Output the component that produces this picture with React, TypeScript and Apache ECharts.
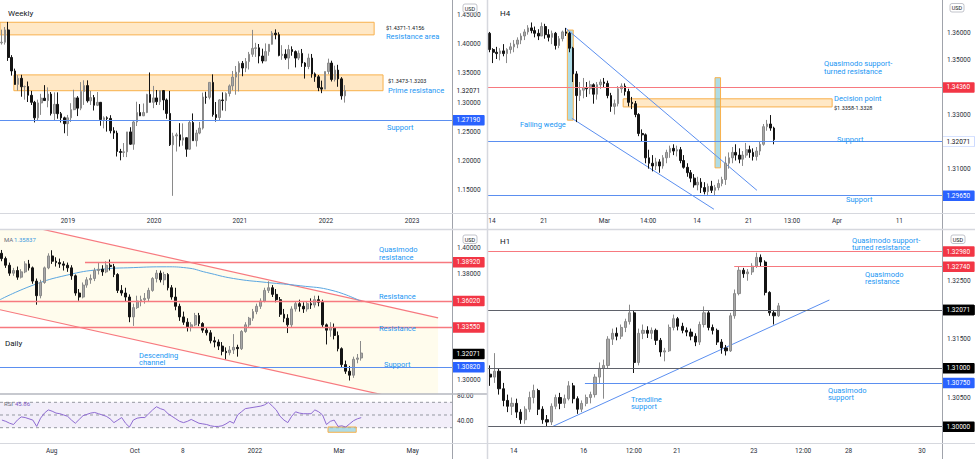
import React, { useEffect, useRef } from 'react';
import * as echarts from 'echarts';

const FONT = 'Roboto, "Noto Sans", "DejaVu Sans", sans-serif';

// ---------------- Weekly (two-week candles) ----------------
const weeklyFirstOpen = 1.402;
const weeklyClose = [
  1.4030, 1.4240, 1.3770, 1.3540, 1.3310, 1.3415, 1.3270, 1.3275, 1.3125, 1.3005,
  1.2740, 1.2995, 1.3075, 1.3035, 1.3145, 1.2815, 1.2970, 1.2810, 1.2740, 1.2640,
  1.2740, 1.2880, 1.3080, 1.2905, 1.3190, 1.3290, 1.3030, 1.3085, 1.2955, 1.3005,
  1.2710, 1.2740, 1.2730, 1.2520, 1.2480, 1.2165, 1.2150, 1.2160, 1.2500, 1.2290,
  1.2670, 1.2830, 1.2775, 1.2830, 1.3140, 1.3005, 1.3080, 1.3015, 1.3205, 1.3045,
  1.2815, 1.2280, 1.2430, 1.2450, 1.2360, 1.2400, 1.2205, 1.2660, 1.2350, 1.2480,
  1.2565, 1.3095, 1.3090, 1.3345, 1.2795, 1.2745, 1.3045, 1.3035, 1.3155, 1.3285,
  1.3435, 1.3520, 1.3670, 1.3590, 1.3700, 1.3825, 1.3925, 1.3935, 1.3795, 1.3710,
  1.3870, 1.3995, 1.4185, 1.4160, 1.3805, 1.3825, 1.3760, 1.3905, 1.3870, 1.3760,
  1.3840, 1.3675, 1.3615, 1.3760, 1.3490, 1.3440, 1.3255, 1.3230, 1.3530, 1.3675,
  1.3395, 1.3555, 1.3405, 1.3115, 1.3207,
];
const weeklyHigh = [
  1.4245, 1.4290, 1.4377, 1.3810, 1.3580, 1.3470, 1.3475, 1.3290, 1.3360, 1.3200,
  1.3030, 1.3050, 1.3150, 1.3298, 1.3260, 1.3180, 1.3175, 1.3175, 1.2840, 1.2760,
  1.2790, 1.2990, 1.3220, 1.3110, 1.3350, 1.3381, 1.3380, 1.3200, 1.3130, 1.3180,
  1.3010, 1.2765, 1.2765, 1.2785, 1.2580, 1.2520, 1.2210, 1.2310, 1.2500, 1.2580,
  1.2700, 1.3015, 1.2975, 1.2985, 1.3150, 1.3514, 1.3285, 1.3215, 1.3210, 1.3210,
  1.3070, 1.3200, 1.2485, 1.2485, 1.2650, 1.2645, 1.2410, 1.2700, 1.2815, 1.2535,
  1.2670, 1.3170, 1.3185, 1.3345, 1.3482, 1.3010, 1.3060, 1.3175, 1.3175, 1.3310,
  1.3540, 1.3625, 1.3705, 1.3710, 1.3760, 1.3865, 1.4241, 1.4020, 1.4000, 1.3920,
  1.4010, 1.4000, 1.4220, 1.4250, 1.4200, 1.3980, 1.3910, 1.3985, 1.3960, 1.3890,
  1.3890, 1.3915, 1.3690, 1.3835, 1.3830, 1.3515, 1.3470, 1.3375, 1.3530, 1.3750,
  1.3715, 1.3630, 1.3645, 1.3435, 1.3298,
];
const weeklyLow = [
  1.3990, 1.3990, 1.3712, 1.3460, 1.3305, 1.3205, 1.3100, 1.3050, 1.3010, 1.2960,
  1.2662, 1.2700, 1.2790, 1.3030, 1.2920, 1.2780, 1.2700, 1.2725, 1.2660, 1.2477,
  1.2432, 1.2670, 1.2870, 1.2770, 1.2870, 1.2960, 1.3000, 1.2960, 1.2865, 1.2940,
  1.2605, 1.2560, 1.2505, 1.2475, 1.2380, 1.2080, 1.2015, 1.2070, 1.2070, 1.2280,
  1.2195, 1.2600, 1.2770, 1.2770, 1.2820, 1.3000, 1.2905, 1.2960, 1.2960, 1.2870,
  1.2725, 1.2260, 1.1409, 1.2165, 1.2250, 1.2265, 1.2075, 1.2195, 1.2350, 1.2250,
  1.2460, 1.2540, 1.2980, 1.3055, 1.2760, 1.2676, 1.2700, 1.2865, 1.2855, 1.3105,
  1.3210, 1.3135, 1.3190, 1.3450, 1.3520, 1.3565, 1.3780, 1.3780, 1.3670, 1.3670,
  1.3710, 1.3800, 1.3990, 1.4080, 1.3790, 1.3730, 1.3730, 1.3570, 1.3800, 1.3600,
  1.3725, 1.3610, 1.3410, 1.3570, 1.3425, 1.3355, 1.3195, 1.3161, 1.3230, 1.3485,
  1.3360, 1.3360, 1.3270, 1.3050, 1.3000,
];
const weeklySlots = 137;
const weeklyTickPos = [20.6, 46.7, 72.7, 98.8, 124.9];
const weeklyTickText = ['2019', '2020', '2021', '2022', '2023'];
const weeklyPriceTicks = [1.15, 1.2, 1.25, 1.3, 1.35, 1.4, 1.45];
const weeklyPriceRange = [1.1116, 1.47509];
const weeklyResistanceArea = [1.4156, 1.4371];
const weeklyResistanceSpan = [0, 113.4];
const weeklyPrimeResistance = [1.3203, 1.3473];
const weeklyPrimeSpan = [4.2, 116.1];
const weeklySupport = 1.2719;

// ---------------- H4 (8-hour candles) ----------------
const h4FirstOpen = 1.36;
const h4Close = [
  1.3540, 1.3530, 1.3525, 1.3535, 1.3525, 1.3540, 1.3550, 1.3560, 1.3575, 1.3590,
  1.3605, 1.3620, 1.3610, 1.3600, 1.3590, 1.3625, 1.3595, 1.3585, 1.3600, 1.3555,
  1.3580, 1.3605, 1.3600, 1.3545, 1.3450, 1.3370, 1.3390, 1.3400, 1.3395, 1.3410,
  1.3375, 1.3410, 1.3420, 1.3415, 1.3370, 1.3330, 1.3340, 1.3395, 1.3405, 1.3385,
  1.3345, 1.3340, 1.3300, 1.3230, 1.3225, 1.3140, 1.3120, 1.3110, 1.3125, 1.3110,
  1.3140, 1.3160, 1.3175, 1.3165, 1.3170, 1.3130, 1.3105, 1.3085, 1.3065, 1.3040,
  1.3050, 1.3030, 1.3015, 1.3035, 1.3020, 1.3030, 1.3045, 1.3060, 1.3120, 1.3140,
  1.3160, 1.3150, 1.3135, 1.3150, 1.3170, 1.3160, 1.3145, 1.3165, 1.3190, 1.3255,
  1.3265, 1.3250, 1.3207,
];
const h4High = [
  1.3605, 1.3545, 1.3550, 1.3545, 1.3560, 1.3545, 1.3565, 1.3575, 1.3585, 1.3600,
  1.3615, 1.3630, 1.3640, 1.3625, 1.3615, 1.3640, 1.3635, 1.3615, 1.3610, 1.3605,
  1.3590, 1.3610, 1.3620, 1.3605, 1.3550, 1.3460, 1.3420, 1.3435, 1.3420, 1.3425,
  1.3415, 1.3420, 1.3430, 1.3435, 1.3425, 1.3380, 1.3355, 1.3405, 1.3415, 1.3415,
  1.3395, 1.3365, 1.3350, 1.3305, 1.3245, 1.3230, 1.3170, 1.3150, 1.3140, 1.3135,
  1.3150, 1.3170, 1.3185, 1.3190, 1.3185, 1.3180, 1.3150, 1.3120, 1.3095, 1.3080,
  1.3070, 1.3065, 1.3050, 1.3045, 1.3055, 1.3040, 1.3060, 1.3070, 1.3145, 1.3160,
  1.3180, 1.3190, 1.3175, 1.3165, 1.3195, 1.3185, 1.3175, 1.3180, 1.3200, 1.3265,
  1.3280, 1.3298, 1.3255,
];
const h4Low = [
  1.3530, 1.3490, 1.3505, 1.3500, 1.3515, 1.3490, 1.3525, 1.3530, 1.3545, 1.3560,
  1.3575, 1.3595, 1.3600, 1.3585, 1.3575, 1.3590, 1.3580, 1.3570, 1.3560, 1.3540,
  1.3545, 1.3570, 1.3590, 1.3530, 1.3420, 1.3272, 1.3350, 1.3360, 1.3365, 1.3375,
  1.3340, 1.3355, 1.3395, 1.3400, 1.3360, 1.3310, 1.3300, 1.3330, 1.3380, 1.3370,
  1.3330, 1.3320, 1.3290, 1.3220, 1.3200, 1.3120, 1.3100, 1.3090, 1.3095, 1.3085,
  1.3100, 1.3120, 1.3140, 1.3150, 1.3145, 1.3120, 1.3100, 1.3070, 1.3050, 1.3030,
  1.3020, 1.3010, 1.3005, 1.3000, 1.3010, 1.3000, 1.3020, 1.3035, 1.3040, 1.3100,
  1.3120, 1.3130, 1.3120, 1.3110, 1.3140, 1.3140, 1.3130, 1.3130, 1.3150, 1.3185,
  1.3240, 1.3240, 1.3190,
];
const h4Slots = 131;
const h4TickPos = [1.15, 16.1, 33.6, 46.2, 60.3, 75.2, 87.7, 100.7, 118.7];
const h4TickText = ['14', '21', 'Mar', '14:00', '14', '21', '13:00', 'Apr', '11'];
const h4PriceTicks = [1.3, 1.31, 1.33, 1.34, 1.35, 1.36];
const h4PriceRange = [1.29362, 1.3723];
const h4QmResistance = 1.3436;
const h4Support = 1.32;
const h4LowerSupport = 1.2965;
const h4DecisionZone = [1.3328, 1.3358];
const h4DecisionSpan = [39.0, 99.3];
const h4MeasureA = { x: [22.9, 24.6], y: [1.3279, 1.3612] };
const h4MeasureB = { x: [65.5, 67.1], y: [1.3103, 1.3436] };
const h4WedgeUpper = [[22.5, 1.3618], [77.6, 1.302]];
const h4WedgeLower = [[24.2, 1.3286], [65.2, 1.295]];

// ---------------- Daily (two-day candles) ----------------
const dailyFirstOpen = 1.396;
const dailyClose = [
  1.3920, 1.3870, 1.3810, 1.3830, 1.3780, 1.3820, 1.3880, 1.3850, 1.3750, 1.3640,
  1.3740, 1.3850, 1.3940, 1.3900, 1.3890, 1.3880, 1.3870, 1.3850, 1.3790, 1.3660,
  1.3630, 1.3720, 1.3760, 1.3770, 1.3830, 1.3840, 1.3820, 1.3870, 1.3860, 1.3800,
  1.3680, 1.3660, 1.3630, 1.3480, 1.3550, 1.3600, 1.3610, 1.3620, 1.3680, 1.3770,
  1.3810, 1.3760, 1.3800, 1.3700, 1.3630, 1.3560, 1.3480, 1.3440, 1.3400, 1.3420,
  1.3490, 1.3430, 1.3380, 1.3360, 1.3300, 1.3290, 1.3260, 1.3220, 1.3210, 1.3230,
  1.3250, 1.3240, 1.3370, 1.3420, 1.3470, 1.3520, 1.3560, 1.3600, 1.3680, 1.3700,
  1.3650, 1.3610, 1.3500, 1.3470, 1.3420, 1.3540, 1.3580, 1.3560, 1.3540, 1.3580,
  1.3570, 1.3610, 1.3590, 1.3420, 1.3380, 1.3400, 1.3340, 1.3240, 1.3120, 1.3070,
  1.3040, 1.3160, 1.3170, 1.3207,
];
const dailyHigh = [
  1.3985, 1.3935, 1.3890, 1.3850, 1.3860, 1.3840, 1.3900, 1.3910, 1.3860, 1.3770,
  1.3760, 1.3860, 1.3960, 1.3983, 1.3930, 1.3920, 1.3900, 1.3890, 1.3870, 1.3800,
  1.3690, 1.3740, 1.3780, 1.3800, 1.3850, 1.3890, 1.3870, 1.3900, 1.3913, 1.3880,
  1.3810, 1.3720, 1.3700, 1.3650, 1.3580, 1.3640, 1.3640, 1.3660, 1.3700, 1.3780,
  1.3834, 1.3830, 1.3820, 1.3810, 1.3720, 1.3700, 1.3580, 1.3520, 1.3470, 1.3440,
  1.3510, 1.3510, 1.3440, 1.3400, 1.3380, 1.3330, 1.3310, 1.3290, 1.3250, 1.3260,
  1.3350, 1.3270, 1.3380, 1.3440, 1.3480, 1.3540, 1.3580, 1.3620, 1.3700, 1.3749,
  1.3720, 1.3690, 1.3630, 1.3540, 1.3500, 1.3560, 1.3600, 1.3610, 1.3590, 1.3600,
  1.3620, 1.3640, 1.3640, 1.3610, 1.3430, 1.3440, 1.3430, 1.3370, 1.3250, 1.3150,
  1.3110, 1.3180, 1.3200, 1.3298,
];
const dailyLow = [
  1.3900, 1.3850, 1.3790, 1.3790, 1.3760, 1.3770, 1.3810, 1.3830, 1.3730, 1.3572,
  1.3620, 1.3730, 1.3840, 1.3880, 1.3860, 1.3850, 1.3830, 1.3820, 1.3760, 1.3640,
  1.3602, 1.3620, 1.3700, 1.3730, 1.3750, 1.3800, 1.3790, 1.3810, 1.3830, 1.3780,
  1.3660, 1.3640, 1.3600, 1.3440, 1.3412, 1.3540, 1.3560, 1.3580, 1.3600, 1.3670,
  1.3740, 1.3740, 1.3720, 1.3680, 1.3610, 1.3530, 1.3450, 1.3420, 1.3370, 1.3370,
  1.3410, 1.3410, 1.3360, 1.3340, 1.3280, 1.3250, 1.3230, 1.3190, 1.3161, 1.3190,
  1.3200, 1.3180, 1.3230, 1.3360, 1.3400, 1.3450, 1.3500, 1.3540, 1.3590, 1.3660,
  1.3630, 1.3590, 1.3480, 1.3440, 1.3358, 1.3400, 1.3520, 1.3520, 1.3510, 1.3520,
  1.3540, 1.3550, 1.3560, 1.3400, 1.3272, 1.3330, 1.3310, 1.3220, 1.3100, 1.3050,
  1.3000, 1.3020, 1.3130, 1.3150,
];
const dailyMaX = [0, 8.6, 17.3, 25.9, 34.5, 43.1, 48.3, 53.5, 60.4, 69.0, 77.7, 86.2, 93.6];
const dailyMaValue = [1.361, 1.372, 1.3795, 1.3838, 1.3852, 1.3858, 1.385, 1.3815, 1.377, 1.374, 1.3715, 1.3678, 1.3595];
const dailyRsi = [
  42, 40, 37, 35, 42, 47, 46, 44, 42, 32,
  45, 53, 58, 56, 53, 52, 50, 48, 42, 37,
  43, 49, 51, 53, 54, 52, 50, 48, 44, 38,
  42, 46, 37, 31, 42, 45, 46, 46, 52, 58,
  63, 60, 58, 52, 48, 44, 40, 38, 40, 43,
  40, 37, 36, 35, 33, 32, 32, 33, 36, 40,
  37, 50, 55, 60, 61, 62, 63, 64, 66, 70,
  64, 58, 48, 42, 38, 48, 55, 53, 52, 52,
  52, 58, 55, 50, 35, 40, 42, 32, 33, 31,
  36, 41, 44, 45.86,
];
const dailySlots = 117;
const dailyTickPos = [13.4, 34.9, 47.3, 66.0, 87.8, 106.8];
const dailyTickText = ['Aug', 'Oct', '8', '2022', 'Mar', 'May'];
const dailyPriceTicks = [1.3, 1.34, 1.38, 1.4];
const dailyPriceRange = [1.28981, 1.41358];
const rsiTicks = [40, 80];
const rsiRange = [5.9, 83.07];
const rsiBand = [30, 70];
const rsiMid = 50;
const rsiOversoldBox = { x: [84.9, 92.2], y: [22.8, 31.1] };
const dailyQmResistance = 1.3892;
const dailyQmFrom = 22.0;
const dailyResistance1 = 1.3602;
const dailyResistance2 = 1.3355;
const dailySupport = 1.3082;
const dailyChannelUpper = [[0, 1.4213], [113.4, 1.3472]];
const dailyChannelLower = [[0, 1.3534], [113.4, 1.2799]];

// ---------------- H1 (three-hour candles) ----------------
const h1FirstOpen = 1.309;
const h1Close = [
  1.3085, 1.3095, 1.3065, 1.3045, 1.3035, 1.3040, 1.3025, 1.3012, 1.3030, 1.3050,
  1.3062, 1.3030, 1.3012, 1.3008, 1.3035, 1.3050, 1.3040, 1.3048, 1.3070, 1.3048,
  1.3030, 1.3040, 1.3050, 1.3055, 1.3085, 1.3100, 1.3105, 1.3150, 1.3160, 1.3155,
  1.3170, 1.3180, 1.3195, 1.3110, 1.3160, 1.3165, 1.3160, 1.3165, 1.3148, 1.3128,
  1.3130, 1.3170, 1.3185, 1.3172, 1.3165, 1.3162, 1.3155, 1.3145, 1.3175, 1.3195,
  1.3170, 1.3165, 1.3145, 1.3135, 1.3130, 1.3190, 1.3228, 1.3268, 1.3262, 1.3265,
  1.3275, 1.3290, 1.3282, 1.3230, 1.3195, 1.3190, 1.3207,
];
const h1High = [
  1.3105, 1.3126, 1.3100, 1.3075, 1.3055, 1.3050, 1.3048, 1.3030, 1.3035, 1.3060,
  1.3072, 1.3065, 1.3035, 1.3020, 1.3040, 1.3055, 1.3058, 1.3055, 1.3078, 1.3075,
  1.3052, 1.3045, 1.3055, 1.3060, 1.3090, 1.3110, 1.3115, 1.3155, 1.3168, 1.3170,
  1.3175, 1.3185, 1.3209, 1.3198, 1.3168, 1.3175, 1.3172, 1.3170, 1.3168, 1.3152,
  1.3135, 1.3175, 1.3192, 1.3188, 1.3178, 1.3170, 1.3168, 1.3160, 1.3180, 1.3206,
  1.3198, 1.3175, 1.3168, 1.3150, 1.3140, 1.3195, 1.3235, 1.3275, 1.3272, 1.3270,
  1.3280, 1.3298, 1.3295, 1.3285, 1.3232, 1.3200, 1.3212,
];
const h1Low = [
  1.3070, 1.3075, 1.3055, 1.3035, 1.3025, 1.3020, 1.3015, 1.3005, 1.3005, 1.3025,
  1.3040, 1.3020, 1.3005, 1.3000, 1.3003, 1.3030, 1.3030, 1.3032, 1.3045, 1.3040,
  1.3022, 1.3025, 1.3035, 1.3040, 1.3050, 1.3075, 1.3048, 1.3100, 1.3140, 1.3148,
  1.3150, 1.3162, 1.3175, 1.3092, 1.3105, 1.3150, 1.3152, 1.3150, 1.3140, 1.3120,
  1.3112, 1.3128, 1.3165, 1.3165, 1.3160, 1.3155, 1.3148, 1.3138, 1.3140, 1.3170,
  1.3165, 1.3158, 1.3140, 1.3125, 1.3122, 1.3128, 1.3185, 1.3225, 1.3255, 1.3250,
  1.3260, 1.3272, 1.3275, 1.3225, 1.3190, 1.3175, 1.3188,
];
const h1Slots = 104;
const h1TickPos = [5.9, 21.9, 33.4, 43.3, 60.9, 72.2, 82.6, 99.4];
const h1TickText = ['14', '16', '12:00', '21', '23', '12:00', '28', '30'];
const h1PriceTicks = [1.305, 1.315, 1.325];
const h1PriceRange = [1.29721, 1.33369];
const h1QmSupportTurnedResistance = 1.3298;
const h1QmResistance = 1.3274;
const h1QmResistanceFrom = 56.4;
const h1Round1 = 1.32;
const h1Round2 = 1.31;
const h1QmSupport = 1.3075;
const h1QmSupportFrom = 22.2;
const h1Round3 = 1.3;
const h1Trendline = [[14.7, 1.3], [78.2, 1.3217]];

const lastPrice = 1.32071;

// ---------------- styles ----------------
const TEXT_DARK = '#131722';
const AXIS_TEXT = '#2a2e39';
const BLUE_TEXT = '#2196f3';
const BLUE_LINE = '#5b8ff0';
const RED_LINE = '#f7797f';
const GRAY_LINE = '#5f626b';
const TAG_RED = '#f23645';
const TAG_BLUE = '#2962ff';
const TAG_BLACK = '#000000';
const ORANGE = '#f8b04b';
const ORANGE_FILL = 'rgba(255,183,77,0.32)';
const TEAL_FILL = 'rgba(120,196,214,0.6)';
const UP_FILL = '#a8a8a8';
const UP_BORDER = '#8a8a8a';
const DOWN_COLOR = '#141414';

function buildCandles(firstOpen: number, close: number[], high: number[], low: number[]) {
  return close.map((c, i) => {
    const o = i === 0 ? firstOpen : close[i - 1];
    return [o, c, Math.min(low[i], o, c), Math.max(high[i], o, c)];
  });
}

const cats = (n: number) => Array.from({ length: n }, (_, i) => String(i));

const tickFormatter = (pos: number[], text: string[]) => (v: number) => {
  const k = pos.findIndex((p) => Math.abs(p - v) < 1e-6);
  return k >= 0 ? text[k] : '';
};

function catAxis(grid: number, n: number) {
  return { type: 'category', gridIndex: grid, position: 'bottom', data: cats(n), show: false, boundaryGap: true };
}

function valXAxis(grid: number, n: number, pos: number[], text: string[], show: boolean, margin: number) {
  return {
    type: 'value', gridIndex: grid, position: 'bottom', min: 0, max: n,
    axisLine: { show: false }, axisTick: { show: false }, splitLine: { show: false },
    axisLabel: {
      show, customValues: pos, formatter: tickFormatter(pos, text),
      fontSize: 6.5, fontFamily: FONT, color: AXIS_TEXT, margin, hideOverlap: false,
    },
  };
}

function priceAxis(grid: number, range: number[], ticks: number[], digits: number) {
  return {
    type: 'value', gridIndex: grid, position: 'right', min: range[0], max: range[1], scale: true,
    axisLine: { show: false }, axisTick: { show: false }, splitLine: { show: false },
    axisLabel: {
      customValues: ticks, formatter: (v: number) => v.toFixed(digits),
      fontSize: 6.5, fontFamily: FONT, color: AXIS_TEXT, margin: 5,
    },
  };
}

function candleSeries(xi: number, yi: number, data: number[][]) {
  return {
    type: 'candlestick', xAxisIndex: xi, yAxisIndex: yi, data, barWidth: '62%', z: 3, silent: true,
    itemStyle: { color: UP_FILL, color0: DOWN_COLOR, borderColor: UP_BORDER, borderColor0: DOWN_COLOR, borderWidth: 1 },
  };
}

type Shape = { kind: 'rect' | 'line' | 'poly'; pts: number[][]; style: any };

function shapeSeries(xi: number, yi: number, shapes: Shape[], z = 1) {
  return {
    type: 'custom', xAxisIndex: xi, yAxisIndex: yi, clip: true, silent: true, z,
    data: shapes.map((s) => [s.pts[0][0], s.pts[0][1]]),
    renderItem: (params: any, api: any) => {
      const s = shapes[params.dataIndex];
      if (s.kind === 'line') {
        const a = api.coord(s.pts[0]);
        const b = api.coord(s.pts[1]);
        return { type: 'line', shape: { x1: a[0], y1: a[1], x2: b[0], y2: b[1] }, style: s.style };
      }
      let pts = s.pts;
      if (s.kind === 'rect') {
        const [[x1, y1], [x2, y2]] = s.pts;
        pts = [[x1, y1], [x2, y1], [x2, y2], [x1, y2]];
      }
      return { type: 'polygon', shape: { points: pts.map((p) => api.coord(p)) }, style: s.style };
    },
  };
}

type LevelOpts = { line?: string; width?: number; bg: string; fg: string; from?: number; to?: number };
function level(v: number, o: LevelOpts) {
  const label = {
    show: true, position: 'end', distance: 0, formatter: v.toFixed(5),
    backgroundColor: o.bg, color: o.fg, fontSize: 6.5, fontFamily: FONT,
    padding: [2, 4.5, 1.5, 4.5], borderRadius: 1,
  };
  const lineStyle = o.line
    ? { color: o.line, width: o.width ?? 1, type: 'solid' }
    : { color: 'rgba(0,0,0,0)', width: 0, type: 'solid' };
  if (o.from != null) return [{ coord: [o.from, v], lineStyle, label }, { coord: [o.to, v] }];
  return { yAxis: v, lineStyle, label };
}

function levelSeries(xi: number, yi: number, items: any[]) {
  return {
    type: 'line', xAxisIndex: xi, yAxisIndex: yi, data: [], silent: true, z: 4,
    markLine: { silent: true, symbol: ['none', 'none'], animation: false, data: items },
  };
}

const rectStyle = { fill: ORANGE_FILL, stroke: ORANGE, lineWidth: 1 };
const tealStyle = { fill: TEAL_FILL, stroke: ORANGE, lineWidth: 1 };

function txt(text: string, x: number, y: number, size: number, fill: string) {
  return {
    type: 'text', x, y, z: 100, silent: true,
    style: { text, fontSize: size, fontFamily: FONT, fill, align: 'left', verticalAlign: 'middle', textAlign: 'left', textVerticalAlign: 'middle' },
  };
}

function usdBox(x: number, y: number) {
  return {
    type: 'group', x, y, z: 110, silent: true,
    children: [
      { type: 'rect', z: 110, shape: { x: 0, y: 0, width: 14, height: 8.5, r: 2 }, style: { fill: '#ffffff', stroke: '#b2b5be', lineWidth: 0.8 } },
      { type: 'text', z: 111, x: 7, y: 4.5, style: { text: 'USD', fontSize: 5.5, fontFamily: FONT, fill: TEXT_DARK, align: 'center', verticalAlign: 'middle', textAlign: 'center', textVerticalAlign: 'middle' } },
    ],
  };
}

function seg(x1: number, y1: number, x2: number, y2: number, stroke: string, w = 1) {
  return { type: 'line', z: 50, silent: true, shape: { x1, y1, x2, y2 }, style: { stroke, lineWidth: w } };
}

function buildOption() {
  const grids = [
    { left: 0, top: 0, width: 452, height: 213 },
    { left: 488, top: 0, width: 454, height: 213 },
    { left: 0, top: 230, width: 452, height: 164 },
    { left: 0, top: 394, width: 452, height: 49 },
    { left: 488, top: 230, width: 454, height: 213 },
  ].map((g) => ({ ...g, outerBoundsMode: 'none', containLabel: false }));

  const xAxis = [
    catAxis(0, weeklySlots), valXAxis(0, weeklySlots, weeklyTickPos, weeklyTickText, true, 4),
    catAxis(1, h4Slots), valXAxis(1, h4Slots, h4TickPos, h4TickText, true, 4),
    catAxis(2, dailySlots), valXAxis(2, dailySlots, dailyTickPos, dailyTickText, false, 4),
    valXAxis(3, dailySlots, dailyTickPos, dailyTickText, true, 4.5),
    catAxis(4, h1Slots), valXAxis(4, h1Slots, h1TickPos, h1TickText, true, 4.5),
  ];
  const yAxis = [
    priceAxis(0, weeklyPriceRange, weeklyPriceTicks, 5),
    priceAxis(1, h4PriceRange, h4PriceTicks, 5),
    priceAxis(2, dailyPriceRange, dailyPriceTicks, 5),
    priceAxis(3, rsiRange, rsiTicks, 2),
    priceAxis(4, h1PriceRange, h1PriceTicks, 5),
  ];

  const weeklyShapes: Shape[] = [
    { kind: 'rect', pts: [[weeklyResistanceSpan[0], weeklyResistanceArea[0]], [weeklyResistanceSpan[1], weeklyResistanceArea[1]]], style: rectStyle },
    { kind: 'rect', pts: [[weeklyPrimeSpan[0], weeklyPrimeResistance[0]], [weeklyPrimeSpan[1], weeklyPrimeResistance[1]]], style: rectStyle },
  ];
  const h4Shapes: Shape[] = [
    { kind: 'rect', pts: [[h4DecisionSpan[0], h4DecisionZone[0]], [h4DecisionSpan[1], h4DecisionZone[1]]], style: rectStyle },
    { kind: 'rect', pts: [[h4MeasureA.x[0], h4MeasureA.y[0]], [h4MeasureA.x[1], h4MeasureA.y[1]]], style: tealStyle },
    { kind: 'rect', pts: [[h4MeasureB.x[0], h4MeasureB.y[0]], [h4MeasureB.x[1], h4MeasureB.y[1]]], style: tealStyle },
    { kind: 'line', pts: h4WedgeUpper, style: { stroke: BLUE_LINE, lineWidth: 1 } },
    { kind: 'line', pts: h4WedgeLower, style: { stroke: BLUE_LINE, lineWidth: 1 } },
  ];
  const dailyShapes: Shape[] = [
    { kind: 'poly', pts: [dailyChannelUpper[0], dailyChannelUpper[1], dailyChannelLower[1], dailyChannelLower[0]], style: { fill: 'rgba(255,236,140,0.16)' } },
    { kind: 'line', pts: dailyChannelUpper, style: { stroke: RED_LINE, lineWidth: 1.2 } },
    { kind: 'line', pts: dailyChannelLower, style: { stroke: RED_LINE, lineWidth: 1.2 } },
  ];
  const rsiShapes: Shape[] = [
    { kind: 'rect', pts: [[0, rsiBand[0]], [dailySlots, rsiBand[1]]], style: { fill: 'rgba(126,87,194,0.1)' } },
    { kind: 'line', pts: [[0, rsiBand[1]], [dailySlots, rsiBand[1]]], style: { stroke: '#9598a1', lineWidth: 1, lineDash: [3, 3] } },
    { kind: 'line', pts: [[0, rsiMid], [dailySlots, rsiMid]], style: { stroke: '#9598a1', lineWidth: 1, lineDash: [3, 3] } },
    { kind: 'line', pts: [[0, rsiBand[0]], [dailySlots, rsiBand[0]]], style: { stroke: '#9598a1', lineWidth: 1, lineDash: [3, 3] } },
    { kind: 'rect', pts: [[rsiOversoldBox.x[0], rsiOversoldBox.y[0]], [rsiOversoldBox.x[1], rsiOversoldBox.y[1]]], style: tealStyle },
  ];
  const h1Shapes: Shape[] = [
    { kind: 'line', pts: h1Trendline, style: { stroke: BLUE_LINE, lineWidth: 1 } },
  ];

  const series: any[] = [
    shapeSeries(1, 0, weeklyShapes),
    candleSeries(0, 0, buildCandles(weeklyFirstOpen, weeklyClose, weeklyHigh, weeklyLow)),
    levelSeries(1, 0, [
      level(weeklySupport, { line: BLUE_LINE, bg: TAG_BLUE, fg: '#fff' }),
      level(lastPrice, { bg: '#fff', fg: TEXT_DARK }),
    ]),

    shapeSeries(3, 1, h4Shapes),
    candleSeries(2, 1, buildCandles(h4FirstOpen, h4Close, h4High, h4Low)),
    levelSeries(3, 1, [
      level(h4QmResistance, { line: RED_LINE, bg: TAG_RED, fg: '#fff' }),
      level(h4Support, { line: BLUE_LINE, bg: TAG_BLUE, fg: '#fff' }),
      level(h4LowerSupport, { line: BLUE_LINE, bg: TAG_BLUE, fg: '#fff' }),
      level(lastPrice, { bg: '#fff', fg: TEXT_DARK }),
    ]),

    shapeSeries(5, 2, dailyShapes),
    {
      type: 'line', xAxisIndex: 5, yAxisIndex: 2, smooth: true, showSymbol: false, silent: true, z: 2,
      data: dailyMaX.map((x, i) => [x, dailyMaValue[i]]),
      lineStyle: { color: '#5aa6e0', width: 1 },
    },
    candleSeries(4, 2, buildCandles(dailyFirstOpen, dailyClose, dailyHigh, dailyLow)),
    levelSeries(5, 2, [
      level(dailyQmResistance, { line: RED_LINE, width: 1.3, bg: TAG_RED, fg: '#fff', from: dailyQmFrom, to: dailySlots }),
      level(dailyResistance1, { line: RED_LINE, width: 1.3, bg: TAG_RED, fg: '#fff' }),
      level(dailyResistance2, { line: RED_LINE, width: 1.3, bg: TAG_RED, fg: '#fff' }),
      level(dailySupport, { line: BLUE_LINE, bg: TAG_BLUE, fg: '#fff' }),
      level(lastPrice, { bg: TAG_BLACK, fg: '#fff' }),
    ]),

    shapeSeries(6, 3, rsiShapes),
    {
      type: 'line', xAxisIndex: 6, yAxisIndex: 3, showSymbol: false, silent: true, z: 3,
      data: dailyRsi.map((v, i) => [i + 0.5, v]),
      lineStyle: { color: '#8e6bd1', width: 1 },
    },

    shapeSeries(8, 4, h1Shapes),
    candleSeries(7, 4, buildCandles(h1FirstOpen, h1Close, h1High, h1Low)),
    levelSeries(8, 4, [
      level(h1QmSupportTurnedResistance, { line: RED_LINE, width: 1.2, bg: TAG_RED, fg: '#fff' }),
      level(h1QmResistance, { line: RED_LINE, width: 1.2, bg: TAG_RED, fg: '#fff', from: h1QmResistanceFrom, to: h1Slots }),
      level(h1Round1, { line: GRAY_LINE, bg: TAG_BLACK, fg: '#fff' }),
      level(h1Round2, { line: GRAY_LINE, bg: TAG_BLACK, fg: '#fff' }),
      level(h1QmSupport, { line: BLUE_LINE, bg: TAG_BLUE, fg: '#fff', from: h1QmSupportFrom, to: h1Slots }),
      level(h1Round3, { line: GRAY_LINE, bg: TAG_BLACK, fg: '#fff' }),
      level(lastPrice, { bg: TAG_BLACK, fg: '#fff' }),
    ]),
  ];

  const AX = '#a0a3ab';
  const LIGHT = '#d6d8de';
  const graphic = [
    seg(452.5, 0, 452.5, 229, AX), seg(942.5, 0, 942.5, 229, AX),
    seg(452.5, 230, 452.5, 459, AX), seg(942.5, 230, 942.5, 459, AX),
    seg(0, 213.5, 487, 213.5, LIGHT), seg(488, 213.5, 975, 213.5, LIGHT),
    seg(0, 443.5, 487, 443.5, LIGHT), seg(488, 443.5, 975, 443.5, LIGHT),
    seg(0, 394, 487, 394, '#b4b7bf', 1.5),
    seg(487.5, 0, 487.5, 459, LIGHT, 1.5),
    seg(0, 229.5, 975, 229.5, LIGHT, 1.5),
    usdBox(463, 4), usdBox(950, 3.5), usdBox(463, 235), usdBox(951, 235),
    // Weekly
    txt('Weekly', 8, 13, 8, TEXT_DARK),
    txt('$1.4371-1.4156', 386, 28, 5.5, TEXT_DARK),
    txt('Resistance area', 386, 36, 7.5, BLUE_TEXT),
    txt('$1.3473-1.3203', 388, 81, 5.5, TEXT_DARK),
    txt('Prime resistance', 388, 90, 7.5, BLUE_TEXT),
    txt('Support', 387, 127, 7.5, BLUE_TEXT),
    // H4
    txt('H4', 500, 13, 8, TEXT_DARK),
    txt('Quasimodo support-', 824, 63, 7.5, BLUE_TEXT),
    txt('turned resistance', 824, 71, 7.5, BLUE_TEXT),
    txt('Decision point', 834, 98, 7.5, BLUE_TEXT),
    txt('$1.3358-1.3328', 834, 108, 5.5, TEXT_DARK),
    txt('Falling wedge', 520, 124, 7.5, BLUE_TEXT),
    txt('Support', 837, 139, 7.5, BLUE_TEXT),
    txt('Support', 846, 199, 7.5, BLUE_TEXT),
    // Daily
    txt('MA', 4, 239, 6, '#6a6d78'),
    txt('1.35837', 14, 239, 6, '#3d9be0'),
    txt('Daily', 5, 343, 8, TEXT_DARK),
    txt('Quasimodo', 379, 249, 7.5, BLUE_TEXT),
    txt('resistance', 379, 257, 7.5, BLUE_TEXT),
    txt('Resistance', 379, 296, 7.5, BLUE_TEXT),
    txt('Resistance', 379, 328, 7.5, BLUE_TEXT),
    txt('Support', 384, 364, 7.5, BLUE_TEXT),
    txt('Descending', 139, 355, 7.5, BLUE_TEXT),
    txt('channel', 139, 362.5, 7.5, BLUE_TEXT),
    txt('RSI', 4, 403, 6, '#6a6d78'),
    txt('45.86', 15, 403, 6, '#7e57c2'),
    // H1
    txt('H1', 500, 241, 8, TEXT_DARK),
    txt('Quasimodo support-', 852, 240, 7.5, BLUE_TEXT),
    txt('turned resistance', 852, 247.5, 7.5, BLUE_TEXT),
    txt('Quasimodo', 865, 274, 7.5, BLUE_TEXT),
    txt('resistance', 865, 281.5, 7.5, BLUE_TEXT),
    txt('Trendline', 631, 399, 7.5, BLUE_TEXT),
    txt('support', 631, 406.5, 7.5, BLUE_TEXT),
    txt('Quasimodo', 828, 390, 7.5, BLUE_TEXT),
    txt('support', 828, 397.5, 7.5, BLUE_TEXT),
  ];

  return {
    animation: false,
    backgroundColor: '#ffffff',
    textStyle: { fontFamily: FONT },
    grid: grids,
    xAxis,
    yAxis,
    series,
    graphic,
  };
}

export default function App() {
  const ref = useRef<HTMLDivElement>(null);
  useEffect(() => {
    if (!ref.current) return;
    const chart = echarts.init(ref.current, null, { renderer: 'svg' });
    chart.setOption(buildOption() as any);
    return () => chart.dispose();
  }, []);
  return (
    <div
      ref={ref}
      style={{ position: 'fixed', left: 0, top: 0, width: 975, height: 459, background: '#fff' }}
    />
  );
}
